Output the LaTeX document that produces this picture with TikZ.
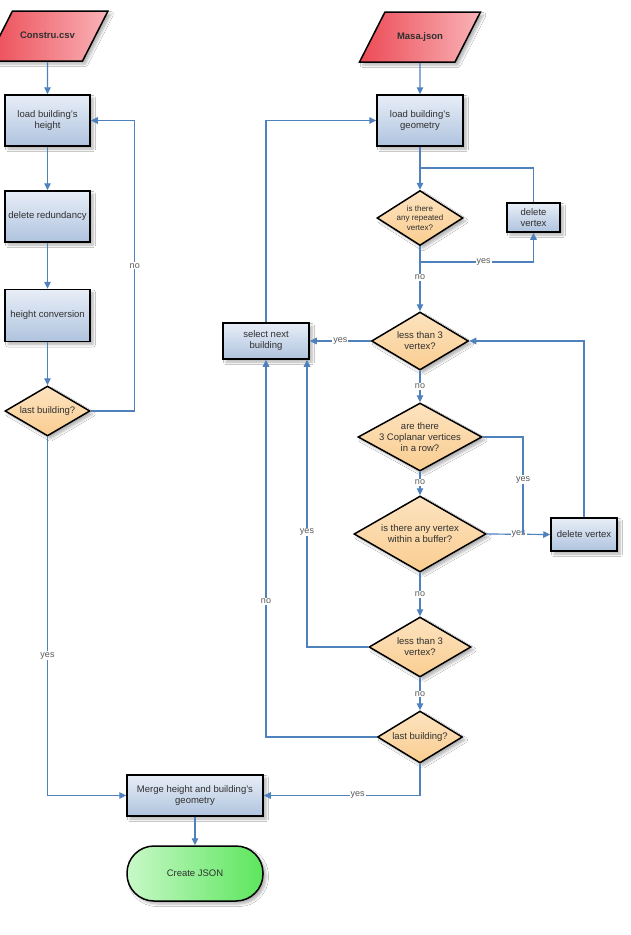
\documentclass[tikz,border=0pt]{standalone}
\usepackage{fontspec}
\setmainfont{Liberation Sans}
\usetikzlibrary{shapes.geometric,arrows.meta,shadows.blur}
\definecolor{flowc}{HTML}{4F81BD}
\definecolor{boxA}{HTML}{E8EEF7}
\definecolor{boxB}{HTML}{AFC3DE}
\definecolor{diaA}{HTML}{FDE3C0}
\definecolor{diaB}{HTML}{F9CD90}
\definecolor{ioA}{HTML}{EC4A55}
\definecolor{ioB}{HTML}{F9B3B7}
\definecolor{endA}{HTML}{C8F8C8}
\definecolor{endB}{HTML}{5CE65C}
\definecolor{txt}{HTML}{303030}
\begin{document}
\begin{tikzpicture}[x=1pt, y=-1pt,
 base/.style={draw=black, line width=1.5pt, text=txt, align=center,
   font=\fontsize{9.5}{11}\selectfont,
   blur shadow={shadow xshift=3pt, shadow yshift=-3pt, shadow blur steps=6, shadow opacity=30, shadow blur radius=2.5pt}},
 proc/.style={base, rectangle, top color=boxA, bottom color=boxB, inner sep=1pt},
 dia/.style={base, diamond, top color=diaA, bottom color=diaB, inner sep=0pt},
 dtxt/.style={text=txt, align=center, font=\fontsize{9.5}{11}\selectfont, inner sep=0pt},
 io/.style={base, trapezium, trapezium left angle=63, trapezium right angle=117,
   trapezium stretches body=true, left color=ioA, right color=ioB,
   font=\bfseries\fontsize{9.5}{11}\selectfont, text height=7pt, text depth=2pt,
   inner xsep=0pt, inner ysep=20.5pt, minimum width=121pt},
 term/.style={base, rectangle, rounded corners=27pt, left color=endA, right color=endB},
 flow/.style={draw=flowc, line width=1.2pt, -{Triangle[length=7pt,width=6.5pt]}},
 link/.style={draw=flowc, line width=1.2pt},
 lbl/.style={fill=white, inner sep=1pt, text=black!65, font=\fontsize{9}{10}\selectfont}]
\path[fill=white, use as bounding box] (0,0) rectangle (630,935);

% left column
\node[io] (constru) at (47.5,36) {Constru.csv};
\node[proc, minimum width=85pt, minimum height=51pt] (lh) at (47.5,120.5) {load building's\\height};
\node[proc, minimum width=85pt, minimum height=51pt] (dr) at (47.5,216.5) {delete redundancy};
\node[proc, minimum width=85pt, minimum height=52pt] (hc) at (47.5,315.5) {height conversion};
\node[dia, minimum width=85pt, minimum height=50pt] (lb1) at (47.5,411) {};
\node[dtxt] (lb1t) at (lb1) {last building?};

% right column
\node[io] (masa) at (420,37) {Masa.json};
\node[proc, minimum width=86pt, minimum height=51pt] (lg) at (420,120.5) {load building's\\geometry};
\node[dia, minimum width=86pt, minimum height=55pt] (rep) at (420,218) {};
\node[dtxt, font=\fontsize{8}{9.5}\selectfont] (rept) at (rep) {is there\\any repeated\\vertex?};
\node[proc, minimum width=53pt, minimum height=29pt] (dv1) at (533.5,217.5) {delete\\vertex};
\node[dia, minimum width=97pt, minimum height=58pt] (lt1) at (420,341) {};
\node[dtxt] (lt1t) at (lt1) {less than 3\\vertex?};
\node[proc, minimum width=86pt, minimum height=36pt] (sn) at (266,341) {select next\\building};
\node[dia, minimum width=124pt, minimum height=68pt] (cop) at (420,437) {};
\node[dtxt] (copt) at (cop) {are there\\3 Coplanar vertices\\in a row?};
\node[dia, minimum width=132pt, minimum height=76pt] (buf) at (420,534) {};
\node[dtxt] (buft) at (buf) {is there any vertex\\within a buffer?};
\node[proc, minimum width=66pt, minimum height=33pt] (dv2) at (584,534.5) {delete vertex};
\node[dia, minimum width=102pt, minimum height=60pt] (lt2) at (420,647) {};
\node[dtxt] (lt2t) at (lt2) {less than 3\\vertex?};
\node[dia, minimum width=85pt, minimum height=52pt] (lb2) at (420,737) {};
\node[dtxt] (lb2t) at (lb2) {last building?};
\node[proc, minimum width=136pt, minimum height=41pt] (merge) at (195,795.5) {Merge height and building's\\geometry};
\node[term, minimum width=136pt, minimum height=55pt] (cj) at (195,873.5) {Create JSON};

\coordinate (j1) at (420,168);
\coordinate (j2) at (420,262);
\coordinate (j3) at (523,534);

% left connectors
\draw[flow] (constru.south) -- (lh.north);
\draw[flow] (lh.south) -- (dr.north);
\draw[flow] (dr.south) -- (hc.north);
\draw[flow] (hc.south) -- (lb1.north);
\draw[flow] (lb1.east) -- ++(44,0) |- node[lbl,pos=0.25]{no} (lh.east);
\draw[flow] (lb1.south) |- node[lbl,pos=0.305]{yes} (merge.west);

% right connectors
\draw[flow] (masa.south) -- (lg.north);
\draw[flow] (lg.south) -- (rep.north);
\draw[link] (dv1.north) |- (j1);
\draw[flow] (rep.south) -- (j2) -| node[lbl,pos=0.28]{yes} (dv1.south);
\draw[flow] (rep.south) -- node[lbl,pos=0.48]{no} (lt1.north);
\draw[flow] (lt1.west) -- node[lbl]{yes} (sn.east);
\draw[flow] (sn.north) |- (lg.west);
\draw[flow] (lt1.south) -- node[lbl]{no} (cop.north);
\draw[flow] (cop.south) -- node[lbl,pos=0.44]{no} (buf.north);
\draw[flow] (buf.east) -- node[lbl]{yes} (dv2.west);
\draw[link] (cop.east) -| node[lbl,pos=0.72]{yes} (j3);
\draw[flow] (dv2.north) |- (lt1.east);
\draw[flow] (buf.south) -- node[lbl]{no} (lt2.north);
\draw[flow] (lt2.west) -| node[lbl,pos=0.7]{yes} ([xshift=41pt]sn.south);
\draw[flow] (lt2.south) -- node[lbl]{no} (lb2.north);
\draw[flow] (lb2.west) -| node[lbl,pos=0.68]{no} (sn.south);
\draw[flow] (lb2.south) |- node[lbl,pos=0.7]{yes} (merge.east);
\draw[flow] (merge.south) -- (cj.north);
\end{tikzpicture}
\end{document}
